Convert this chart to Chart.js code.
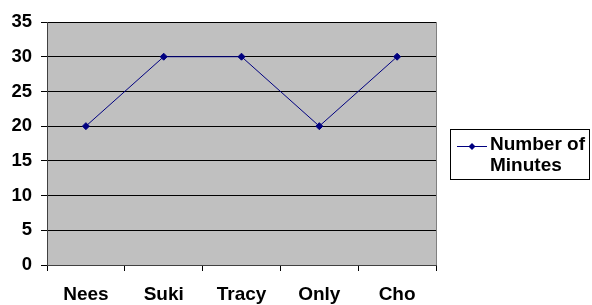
<!DOCTYPE html>
<html>
<head>
<meta charset="utf-8">
<script src="https://cdn.jsdelivr.net/npm/chart.js@4/dist/chart.umd.min.js"></script>
<style>
  html, body { margin: 0; padding: 0; background: #fff; }
  #wrap { position: relative; width: 592px; height: 305px; }
  #legend {
    position: absolute; left: 450px; top: 129px; width: 140px; height: 51px;
    border: 1px solid #000; box-sizing: border-box;
    font: bold 19px "Liberation Sans", Arial, sans-serif; color: #000;
  }
  #legend canvas { position: absolute; left: 5px; top: 9px; }
  #legend span { position: absolute; left: 39px; top: 4px; line-height: 20.5px; white-space: nowrap; }
</style>
</head>
<body>
<div id="wrap">
  <canvas id="chart" width="592" height="305"></canvas>
  <div id="legend"><canvas id="swatch" width="32" height="14"></canvas><span id="legend-text"></span></div>
</div>
<script>
// --- Data ---
const categories = ['Nees', 'Suki', 'Tracy', 'Only', 'Cho'];
const minutes = [20, 30, 30, 20, 30];
const seriesName = 'Number of Minutes';
const yTicks = [0, 5, 10, 15, 20, 25, 30, 35];

const NAVY = '#000080';
const FONT_X = { family: '"Liberation Sans", Arial, sans-serif', size: 19, weight: 'bold' };
const FONT_Y = { family: '"Liberation Sans", Arial, sans-serif', size: 18.5, weight: 'bold' };

// gray plot background + right border
const plotBackground = {
    id: 'plotBackground',
    beforeDraw(chart) {
        const { ctx, chartArea: a } = chart;
        ctx.save();
        ctx.fillStyle = '#c0c0c0';
        ctx.fillRect(a.left, a.top, a.right - a.left, a.bottom - a.top);
        ctx.strokeStyle = '#808080';
        ctx.lineWidth = 1;
        ctx.beginPath();
        ctx.moveTo(a.right + 0.5, a.top);
        ctx.lineTo(a.right + 0.5, a.bottom);
        ctx.stroke();
        ctx.restore();
    }
};

new Chart(document.getElementById('chart').getContext('2d'), {
    type: 'line',
    data: {
        labels: categories,
        datasets: [{
            label: seriesName,
            data: minutes,
            borderColor: NAVY,
            backgroundColor: NAVY,
            borderWidth: 1,
            pointStyle: 'rectRot',
            pointRadius: 3.5,
            pointBorderWidth: 1,
            tension: 0
        }]
    },
    options: {
        responsive: false,
        animation: false,
        layout: { padding: { top: 22, right: 156, left: 0, bottom: 0 } },
        plugins: { legend: { display: false }, tooltip: { enabled: false } },
        scales: {
            x: {
                offset: true,
                afterFit: (scale) => { scale.height = 40; },
                grid: {
                    offset: true,
                    drawOnChartArea: false,
                    drawTicks: true,
                    tickLength: 6,
                    color: '#000'
                },
                border: { color: '#404040', width: 1 },
                ticks: { color: '#000', font: FONT_X, padding: 12, maxRotation: 0, autoSkip: false }
            },
            y: {
                min: 0,
                max: 35,
                afterFit: (scale) => { scale.width = 47; },
                afterBuildTicks: (scale) => { scale.ticks = yTicks.map(v => ({ value: v })); },
                grid: { color: '#000', lineWidth: 1, tickLength: 6 },
                border: { color: '#404040', width: 1 },
                ticks: { color: '#000', font: FONT_Y, padding: 9 }
            }
        }
    },
    plugins: [plotBackground]
});

// --- legend ---
document.getElementById('legend-text').innerHTML = 'Number of<br>Minutes';
const sw = document.getElementById('swatch').getContext('2d');
sw.strokeStyle = NAVY;
sw.lineWidth = 1;
sw.beginPath();
sw.moveTo(1, 7.5);
sw.lineTo(31, 7.5);
sw.stroke();
sw.fillStyle = NAVY;
sw.beginPath();
sw.moveTo(16, 4);
sw.lineTo(19.5, 7.5);
sw.lineTo(16, 11);
sw.lineTo(12.5, 7.5);
sw.closePath();
sw.fill();
</script>
</body>
</html>
